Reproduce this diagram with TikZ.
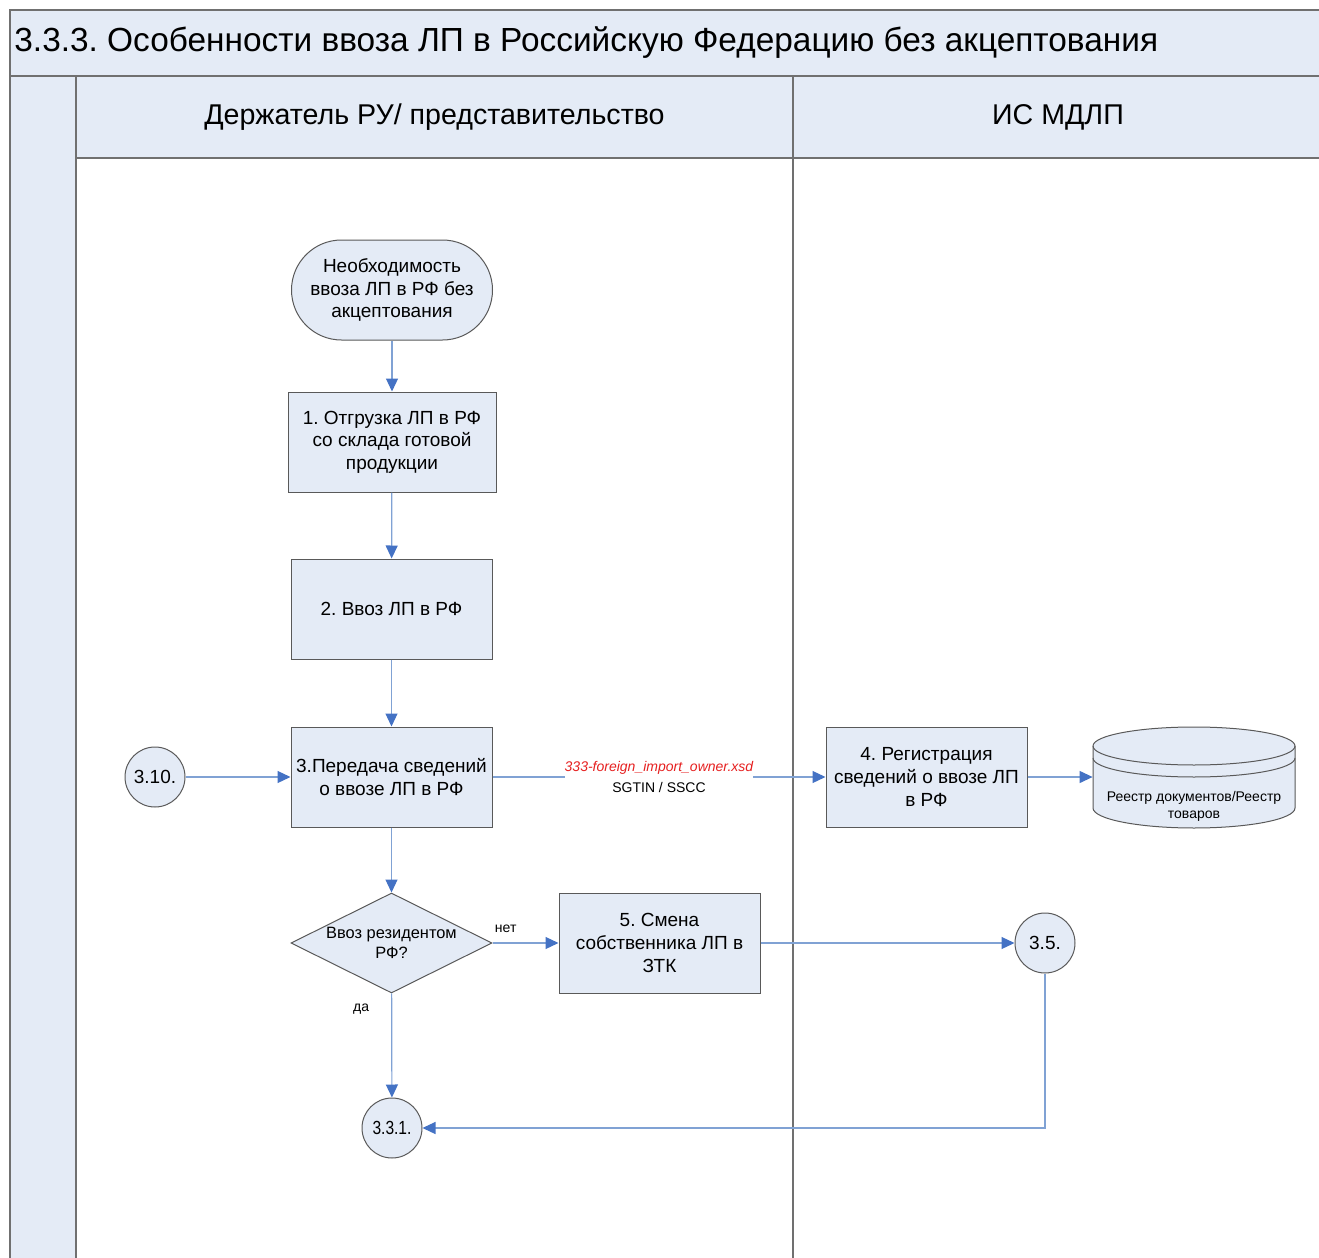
\documentclass[tikz,border=0pt]{standalone}
\usepackage{fontspec}
\setmainfont{Liberation Sans}
\usetikzlibrary{positioning}
\usetikzlibrary{arrows.meta}
\usetikzlibrary{shapes.geometric}
\frenchspacing

\definecolor{lanefill}{RGB}{228,235,246}
\definecolor{flowline}{RGB}{128,162,212}
\definecolor{flowtip}{RGB}{68,114,196}
\definecolor{framegray}{RGB}{112,112,112}
\definecolor{xsdred}{RGB}{230,32,32}

\tikzset{
  frameline/.style={draw=framegray, line width=0.75pt},
  procbox/.style={rectangle, draw=black!65, fill=lanefill, line width=0.5pt,
    minimum width=100.5pt, minimum height=50pt, align=center, inner sep=1pt,
    font=\fontsize{9.5}{11.3}\selectfont},
  startbox/.style={procbox, rounded corners=25pt},
  decision/.style={diamond, draw=black!65, fill=lanefill, line width=0.5pt,
    aspect=2, inner sep=0pt, minimum width=100.5pt, minimum height=50pt},
  connector/.style={circle, draw=black!65, fill=lanefill, line width=0.5pt,
    minimum size=30pt, inner sep=0pt, font=\fontsize{9.5}{11.3}\selectfont},
  flow/.style={draw=flowline, line width=0.6pt,
    -{Triangle[length=6.5pt, width=6pt, color=flowtip]}},
  smalltxt/.style={font=\fontsize{7}{9}\selectfont, inner sep=1pt}
}

\begin{document}
\begin{tikzpicture}[x=0.5pt, y=-0.5pt]
  \useasboundingbox (0,0) rectangle (1319,1258);

  % swimlane frame
  \fill[lanefill] (10,10) rectangle (1319,76);
  \fill[lanefill] (76,76) rectangle (1319,158);
  \fill[lanefill] (10,76) rectangle (76,1258);
  \draw[frameline] (1319,10) -- (10,10) -- (10,1258);
  \draw[frameline] (10,76) -- (1319,76);
  \draw[frameline] (76,158) -- (1319,158);
  \draw[frameline] (76,76) -- (76,1258);
  \draw[frameline] (793,76) -- (793,1258);

  \node[anchor=west, font=\fontsize{16.7}{19}\selectfont, inner sep=0pt] (title) at (14,43)
    {3.3.3. Особенности ввоза ЛП в Российскую Федерацию без акцептования};
  \node[font=\fontsize{14.3}{17}\selectfont] (laneA) at (434.5,117) {Держатель РУ/ представительство};
  \node[font=\fontsize{14.3}{17}\selectfont] (laneB) at (1058,117) {ИС МДЛП};

  % process steps
  \node[startbox] (start) at (392,290) {Необходимость\\ввоза ЛП в РФ без\\акцептования};
  \node[procbox, minimum width=104pt] (s1) at (392,442) {1. Отгрузка ЛП в РФ\\со склада готовой\\продукции};
  \node[procbox] (s2) at (391.5,609) {2. Ввоз ЛП в РФ};
  \node[procbox] (s3) at (391.5,777) {3.Передача сведений\\о ввозе ЛП в РФ};
  \node[procbox] (s4) at (926.5,777) {4. Регистрация\\сведений о ввозе ЛП\\в РФ};
  \node[decision, label={[font=\fontsize{8.2}{10}\selectfont, align=center]center:Ввоз резидентом\\РФ?}] (dec) at (391.5,943) {};
  \node[procbox] (s5) at (659.5,943) {5. Смена\\собственника ЛП в\\ЗТК};

  % off-page connectors
  \node[connector] (c310) at (155,777) {3.10.};
  \node[connector] (c35) at (1045,943) {3.5.};
  \node[connector] (c331) at (392,1128) {\scalebox{0.82}[1]{3.3.1.}};

  % data store
  \node[minimum width=101pt, minimum height=50pt, inner sep=0pt] (db) at (1194,777) {};
  \draw[draw=black!65, fill=lanefill, line width=0.5pt] (1093,746) -- (1093,808)
    arc[start angle=180, end angle=360, x radius=50.5pt, y radius=10pt] -- (1295,746)
    arc[start angle=0, end angle=180, x radius=50.5pt, y radius=9.5pt] -- cycle;
  \draw[draw=black!65, line width=0.5pt] (1093,746) arc[start angle=180, end angle=360, x radius=50.5pt, y radius=9.5pt];
  \draw[draw=black!65, line width=0.5pt] (1093,758) arc[start angle=180, end angle=360, x radius=50.5pt, y radius=9.5pt];
  \node[smalltxt, align=center, font=\fontsize{7}{8.5}\selectfont] (dbtext) at (1194,806) {Реестр документов/Реестр\\товаров};

  % flows
  \draw[flow] (start) -- (s1);
  \draw[flow] (s1) -- (s2);
  \draw[flow] (s2) -- (s3);
  \draw[flow] (c310) -- (s3);
  \draw[flow] (s3) -- node[fill=white, align=center, inner sep=0pt, font=\fontsize{7}{10.5}\selectfont]
    {\textcolor{xsdred}{\itshape 333-foreign\_import\_owner.xsd}\\SGTIN / SSCC} (s4);
  \draw[flow] (s4) -- (db);
  \draw[flow] (s3) -- (dec);
  \draw[flow] (dec) -- node[smalltxt, pos=0.2, above=4pt] {нет} (s5);
  \draw[flow] (s5) -- (c35);
  \draw[flow] (dec) -- node[smalltxt, pos=0.15, left=10pt] {да} (c331);
  \draw[flow] (c35) |- (c331);
\end{tikzpicture}
\end{document}
